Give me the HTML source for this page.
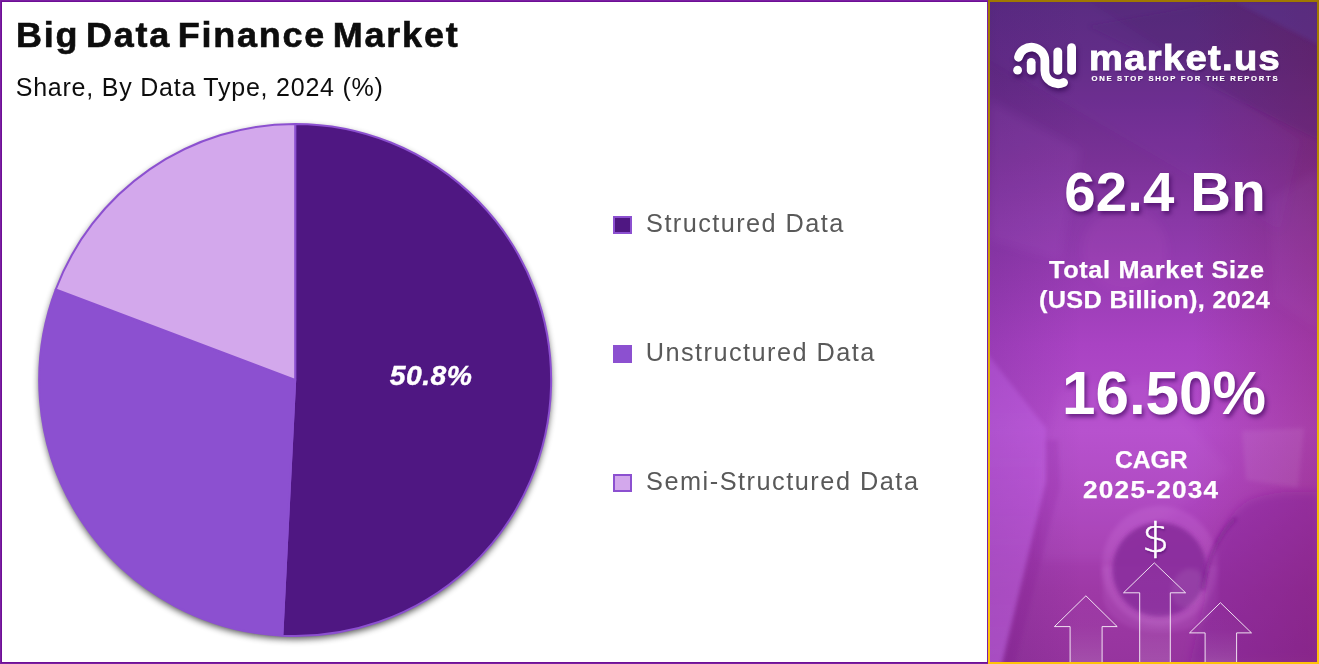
<!DOCTYPE html>
<html lang="en">
<head>
<meta charset="utf-8">
<title>Big Data Finance Market</title>
<style>
html,body{margin:0;padding:0;background:#fff;}
body{width:1319px;height:664px;position:relative;overflow:hidden;font-family:"Liberation Sans",sans-serif;}
.abs{position:absolute;white-space:nowrap;line-height:1;margin:0;padding:0;}
.tx{position:absolute;white-space:nowrap;line-height:1;margin:0;padding:0;transform-origin:0 0;font-weight:400;}
#left{position:absolute;left:0;top:0;width:988px;height:664px;box-sizing:border-box;border:1px solid #7b1fa2;border-right-width:0;background:#fff;}
#left>div{position:absolute;left:0;top:0;right:0;bottom:0;border:1px solid #6e0f96;border-right-color:#7b1fa2;}
#right{position:absolute;left:988px;top:0;width:331px;height:664px;box-sizing:border-box;overflow:hidden;
 background:linear-gradient(180deg,#a07800 0%,#a57d00 9%,#b68a00 24%,#deac05 50%,#f5be05 75%,#ffc30a 100%);}
#rbg{position:absolute;left:2px;top:2px;right:2px;bottom:2px;overflow:hidden;
 background:
  linear-gradient(90deg,rgba(70,20,110,.16) 0%,rgba(70,20,110,0) 28%,rgba(110,10,50,0) 62%,rgba(120,10,40,.22) 100%),
  linear-gradient(180deg,rgb(86,42,124) 0%,rgb(96,43,131) 9%,rgb(110,46,142) 17%,rgb(121,49,150) 24%,rgb(137,56,166) 33%,rgb(154,61,181) 43%,rgb(169,67,195) 52%,rgb(180,77,203) 65%,rgb(172,68,190) 76%,rgb(158,57,166) 89%,rgb(150,52,158) 100%);}
.w{color:#fff;font-weight:700;}
.big{text-shadow:2px 3px 4px rgba(55,0,85,.6);}
.leg{color:#595959;}
.mk{position:absolute;box-sizing:border-box;width:19px;height:18px;border:2px solid #8c50d0;}
#ov{position:absolute;left:0;top:0;width:1319px;height:664px;}
</style>
</head>
<body>
<div id="left"><div></div></div>
<div id="right"><div id="rbg">
  <svg class="abs" style="left:0;top:0;" width="327" height="660" viewBox="990 2 327 660">
    <defs>
      <filter id="b2" x="-20%" y="-20%" width="140%" height="140%"><feGaussianBlur stdDeviation="2"/></filter>
      <filter id="b5" x="-30%" y="-30%" width="160%" height="160%"><feGaussianBlur stdDeviation="5"/></filter>
    </defs>
    <!-- top papers -->
    <path d="M1088 26 L1224 2 L1319 2 L1319 140 Z" fill="#4a1f6e" fill-opacity="0.22" filter="url(#b2)"/>
    <path d="M1235 2 L1319 2 L1319 45 Z" fill="#5b3aa0" fill-opacity="0.35" filter="url(#b2)"/>
    <path d="M990 2 L1090 2 L1300 140 L1280 230 L1180 170 L990 60 Z" fill="#8a4fd0" fill-opacity="0.08" filter="url(#b5)"/>
    <path d="M990 100 L1080 150 L1060 260 L990 240 Z" fill="#c070e0" fill-opacity="0.10" filter="url(#b5)"/>
    <!-- middle -->
    <circle cx="1125" cy="250" r="42" fill="#d060d0" fill-opacity="0.10" filter="url(#b5)"/>
    <path d="M1270 200 L1319 170 L1319 330 L1275 300 Z" fill="#c88cf0" fill-opacity="0.06" filter="url(#b5)"/>
    <path d="M1060 390 L1150 380 L1230 470 L1110 560 L1040 560 L1040 470 Z" fill="#f0b0ff" fill-opacity="0.05" filter="url(#b5)"/>
    <!-- lower left papers -->
    <linearGradient id="ls" x1="0" y1="0" x2="0" y2="1"><stop offset="0" stop-color="#d278ff" stop-opacity="0.24"/><stop offset="0.5" stop-color="#d278ff" stop-opacity="0.3"/><stop offset="1" stop-color="#d278ff" stop-opacity="0.42"/></linearGradient>
    <path d="M984 350 L1046 428 L1046 482 L1001 668 L984 668 Z" fill="url(#ls)" filter="url(#b2)"/>
    <path d="M1046 440 L1058 440 L1060 486 L1014 668 L1001 668 L1046 482 Z" fill="#6a1a80" fill-opacity="0.12" filter="url(#b2)"/>
    <!-- paper top-right of lower area -->
    <path d="M1242 431 L1304 428 L1298 488 L1246 480 Z" fill="#ffffff" fill-opacity="0.07" filter="url(#b2)"/>
    <!-- cup -->
    <path d="M1102 566 L1103 596 C1106 622 1135 632 1160 632 C1190 632 1216 622 1218 596 L1218 566 Z" fill="#f0a0ff" fill-opacity="0.10" filter="url(#b2)"/>
    <ellipse cx="1160" cy="566" rx="58" ry="60" fill="#f0a0ff" fill-opacity="0.13" filter="url(#b2)"/>
    <circle cx="1159.5" cy="569.5" r="47" fill="#86289a" fill-opacity="0.85" filter="url(#b2)"/>
    <ellipse cx="1188" cy="588" rx="16" ry="20" fill="#ffffff" fill-opacity="0.07" filter="url(#b2)" transform="rotate(25 1188 588)"/>
    <!-- dark blob (hand / glasses) -->
    <path d="M1205 600 C1208 560 1222 515 1250 500 C1275 490 1300 492 1319 492 L1319 664 L1190 664 Z" fill="#7a1f92" fill-opacity="0.36" filter="url(#b5)"/>
    <path d="M1203 590 C1207 560 1218 535 1236 518" fill="none" stroke="#6a1a80" stroke-opacity="0.5" stroke-width="3.5" filter="url(#b2)"/>
  </svg>
</div></div>
<div id="ov">
  <svg id="pie" class="abs" style="left:0;top:0;" width="700" height="664" viewBox="0 0 700 664">
    <defs>
      <filter id="ps" x="-10%" y="-10%" width="120%" height="120%">
        <feGaussianBlur in="SourceAlpha" stdDeviation="3.6"/>
        <feOffset dx="0" dy="3" result="b"/>
        <feComponentTransfer><feFuncA type="linear" slope="0.7"/></feComponentTransfer>
        <feMerge><feMergeNode/><feMergeNode in="SourceGraphic"/></feMerge>
      </filter>
    </defs>
    <circle cx="295.2" cy="380" r="256" fill="#8c50d0" filter="url(#ps)"/>
    <g stroke="#8c50d0" stroke-width="2" stroke-linejoin="round">
      <path d="M295.2 380 L295.2 124 A256 256 0 1 1 282.34 635.68 Z" fill="#4f1782"/>
      <path d="M295.2 380 L282.34 635.68 A256 256 0 0 1 55.73 289.51 Z" fill="#8c50d0"/>
      <path d="M295.2 380 L55.73 289.51 A256 256 0 0 1 295.2 124 Z" fill="#d3a8ec"/>
    </g>
  </svg>
  <div class="mk" style="left:613px;top:216px;background:#4f1782;"></div>
  <div class="mk" style="left:613px;top:345px;background:#8c50d0;"></div>
  <div class="mk" style="left:613px;top:474px;background:#d3a8ec;"></div>

  <svg class="abs" style="left:988px;top:0;" width="331" height="664" viewBox="988 0 331 664">
    <g fill="none" stroke="#fff" stroke-width="8.8" stroke-linecap="round" style="filter:drop-shadow(1px 3px 2.5px rgba(40,0,70,.65));">
      <path d="M1018.5 57.3 A13.4 13.4 0 0 1 1044.9 60.7 L1044.9 70.4 A13.3 13.3 0 0 0 1063.6 82.5"/>
      <path d="M1031.2 62.3 L1031.2 70.4"/>
      <path d="M1057.8 51.8 L1057.8 70.4"/>
      <path d="M1071.6 47.6 L1071.6 70.4"/>
    </g>
    <circle cx="1017.6" cy="70.2" r="4.4" fill="#fff" style="filter:drop-shadow(1px 3px 2.5px rgba(40,0,70,.65));"/>
    <defs><linearGradient id="ag" x1="0" y1="0" x2="0" y2="1"><stop offset="0" stop-color="#fff" stop-opacity="0"/><stop offset="0.45" stop-color="#fff" stop-opacity="0.02"/><stop offset="1" stop-color="#fff" stop-opacity="0.13"/></linearGradient></defs>
    <g fill="url(#ag)" stroke="#fff" stroke-opacity="0.85" stroke-width="1">
      <path d="M1139.7 662 V592.8 H1123.5 L1154.3 562.9 L1185.6 592.8 H1170.3 V662"/>
      <path d="M1070.1 662 V626.6 H1054.4 L1085.9 595.8 L1117.2 626.6 H1102.1 V662"/>
      <path d="M1205.1 662 V632.9 H1189.5 L1220.4 602.7 L1251.5 632.9 H1236.6 V662"/>
    </g>
  </svg>
  <h1 class="tx" id="t1" style="left:15.85px;top:17.80px;font-size:34.6px;letter-spacing:1.731px;transform:scaleX(1.0400);font-weight:700;color:#0d0d0d;-webkit-text-stroke:0.6px #0d0d0d;word-spacing:-5px;">Big Data Finance Market</h1>
  <div class="tx" id="t2" style="left:15.69px;top:74.84px;font-size:25px;letter-spacing:0.774px;color:#0d0d0d;">Share, By Data Type, 2024 (%)</div>
  <div class="tx w" id="plabel" style="left:389.73px;top:360.55px;font-size:28.3px;letter-spacing:0.514px;font-style:italic;-webkit-text-stroke:0.4px #fff;">50.8%</div>
  <div class="tx leg" id="l1" style="left:646.09px;top:210.58px;font-size:25.3px;letter-spacing:1.434px;">Structured Data</div>
  <div class="tx leg" id="l2" style="left:645.73px;top:339.58px;font-size:25.3px;letter-spacing:1.454px;">Unstructured Data</div>
  <div class="tx leg" id="l3" style="left:646.09px;top:468.58px;font-size:25.3px;letter-spacing:1.508px;">Semi-Structured Data</div>
  <div class="tx w" id="r1" style="left:1088.88px;top:39.86px;font-size:35px;letter-spacing:1.201px;transform:scaleX(1.0900);-webkit-text-stroke:0.9px #fff;text-shadow:1px 2px 2px rgba(45,5,75,.4);">market.us</div>
  <div class="tx w" id="r2" style="left:1091.49px;top:75.00px;font-size:7.7px;letter-spacing:1.701px;-webkit-text-stroke:0.2px #fff;text-shadow:0.5px 1px 1px rgba(45,5,75,.35);">ONE STOP SHOP FOR THE REPORTS</div>
  <div class="tx w big" id="r3" style="left:1064.13px;top:164.26px;font-size:56.4px;letter-spacing:0.161px;">62.4 Bn</div>
  <div class="tx w" id="r4" style="left:1048.53px;top:259.02px;font-size:23.6px;letter-spacing:0.620px;transform:scaleX(1.0700);-webkit-text-stroke:0.25px #fff;">Total Market Size</div>
  <div class="tx w" id="r5" style="left:1039.33px;top:289.02px;font-size:23.6px;letter-spacing:0.324px;transform:scaleX(1.0700);-webkit-text-stroke:0.25px #fff;">(USD Billion), 2024</div>
  <div class="tx w big" id="r6" style="left:1062.07px;top:364.04px;font-size:60.2px;letter-spacing:-0.044px;">16.50%</div>
  <div class="tx w" id="r7" style="left:1115.00px;top:447.68px;font-size:24px;letter-spacing:-0.082px;transform:scaleX(1.0300);-webkit-text-stroke:0.25px #fff;">CAGR</div>
  <div class="tx w" id="r8" style="left:1082.63px;top:477.68px;font-size:24px;letter-spacing:1.154px;transform:scaleX(1.0900);-webkit-text-stroke:0.25px #fff;">2025-2034</div>
  <div class="tx" id="r9" style="left:1142.12px;top:517.10px;font-size:41.6px;transform:scaleX(1.0300);color:#fff;font-family:'DejaVu Sans Light','Liberation Sans',sans-serif;font-weight:200;-webkit-text-stroke:0.5px #fff;text-shadow:1px 2px 2px rgba(60,0,90,.45);">$</div>
</div>
</body>
</html>
